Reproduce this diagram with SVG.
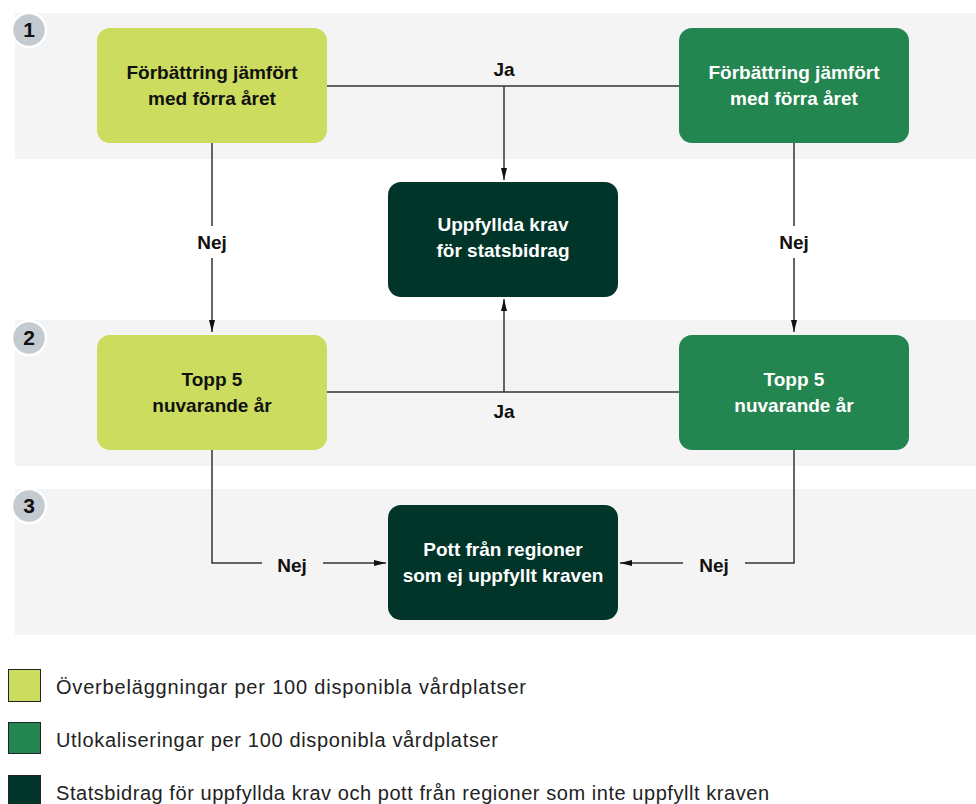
<svg xmlns="http://www.w3.org/2000/svg" width="976" height="804" viewBox="0 0 976 804">
<style>
.band{fill:#f4f4f4}
.num{fill:#c3cbd1;stroke:#fff;stroke-width:2.5}
.numt{font-family:"Liberation Sans",Arial,sans-serif;font-weight:bold;font-size:21px;fill:#111;text-anchor:middle}
.lg{fill:#cbdc5e}
.mg{fill:#238550}
.dk{fill:#02352a}
.t{font-family:"Liberation Sans",Arial,sans-serif;font-weight:bold;font-size:19px;text-anchor:middle}
.tb{fill:#111}
.tw{fill:#fff}
.ln{stroke:#333;stroke-width:1.5;fill:none}
.lab{font-family:"Liberation Sans",Arial,sans-serif;font-weight:bold;font-size:19px;fill:#111;text-anchor:middle}
.leg{font-family:"Liberation Sans",Arial,sans-serif;font-size:20px;fill:#222}
.sw{stroke:#222;stroke-width:1}
</style>
<defs>
<marker id="ah" viewBox="0 0 12 6" refX="12" refY="3" markerWidth="12" markerHeight="6" markerUnits="userSpaceOnUse" orient="auto">
<path d="M0,0 L12,3 L0,6 z" fill="#111"/>
</marker>
</defs>
<rect class="band" x="15" y="13" width="961" height="146"/>
<rect class="band" x="15" y="320" width="961" height="146"/>
<rect class="band" x="15" y="489" width="961" height="146"/>
<g id="step1"><circle class="num" cx="29" cy="30" r="17"/><text class="numt" x="29" y="37">1</text></g>
<g id="step2"><circle class="num" cx="29" cy="338" r="17"/><text class="numt" x="29" y="345">2</text></g>
<g id="step3"><circle class="num" cx="29" cy="506" r="17"/><text class="numt" x="29" y="513">3</text></g>
<g id="connectors">
<path class="ln" d="M327,86 H679"/>
<path class="ln" d="M504,86 V180" marker-end="url(#ah)"/>
<text class="lab" x="504" y="76">Ja</text>
<path class="ln" d="M327,392 H679"/>
<path class="ln" d="M504,392 V299" marker-end="url(#ah)"/>
<text class="lab" x="504" y="418">Ja</text>
<path class="ln" d="M212,143 V226"/>
<path class="ln" d="M212,258 V332" marker-end="url(#ah)"/>
<text class="lab" x="212" y="249">Nej</text>
<path class="ln" d="M794,143 V226"/>
<path class="ln" d="M794,258 V332" marker-end="url(#ah)"/>
<text class="lab" x="794" y="249">Nej</text>
<path class="ln" d="M212,450 V563 H262"/>
<path class="ln" d="M323,563 H386" marker-end="url(#ah)"/>
<text class="lab" x="292" y="572">Nej</text>
<path class="ln" d="M794,450 V563 H745"/>
<path class="ln" d="M683,563 H620" marker-end="url(#ah)"/>
<text class="lab" x="714" y="572">Nej</text>
</g>
<g id="n1"><rect class="lg" x="97" y="28" width="230" height="115" rx="13"/><text class="t tb" x="212" y="79">Förbättring jämfört</text><text class="t tb" x="212" y="105">med förra året</text></g>
<g id="n2"><rect class="mg" x="679" y="28" width="230" height="115" rx="13"/><text class="t tw" x="794" y="79">Förbättring jämfört</text><text class="t tw" x="794" y="105">med förra året</text></g>
<g id="n3"><rect class="dk" x="388" y="182" width="230" height="115" rx="13"/><text class="t tw" x="503" y="231">Uppfyllda krav</text><text class="t tw" x="503" y="257">för statsbidrag</text></g>
<g id="n4"><rect class="lg" x="97" y="335" width="230" height="115" rx="13"/><text class="t tb" x="212" y="386">Topp 5</text><text class="t tb" x="212" y="412">nuvarande år</text></g>
<g id="n5"><rect class="mg" x="679" y="335" width="230" height="115" rx="13"/><text class="t tw" x="794" y="386">Topp 5</text><text class="t tw" x="794" y="412">nuvarande år</text></g>
<g id="n6"><rect class="dk" x="388" y="505" width="230" height="115" rx="13"/><text class="t tw" x="503" y="556">Pott från regioner</text><text class="t tw" x="503" y="582">som ej uppfyllt kraven</text></g>
<g id="legend">
<rect class="lg sw" x="8.5" y="669.5" width="32" height="32"/>
<text class="leg" x="56" y="694" textLength="470" lengthAdjust="spacing">Överbeläggningar per 100 disponibla vårdplatser</text>
<rect class="mg sw" x="8.5" y="722.5" width="32" height="31"/>
<text class="leg" x="56" y="747" textLength="442" lengthAdjust="spacing">Utlokaliseringar per 100 disponibla vårdplatser</text>
<rect class="dk sw" x="8.5" y="775.5" width="32" height="32"/>
<text class="leg" x="56" y="800" textLength="713" lengthAdjust="spacing">Statsbidrag för uppfyllda krav och pott från regioner som inte uppfyllt kraven</text>
</g>
</svg>
